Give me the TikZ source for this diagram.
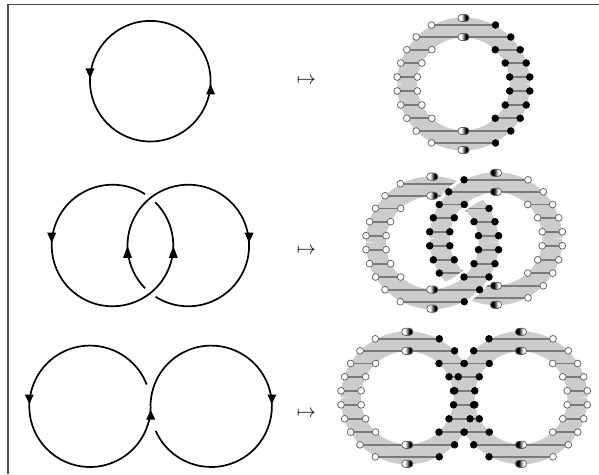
\documentclass[tikz,border=0pt]{standalone}
\usepackage{amsmath}
\pgfdeclarehorizontalshading{wbshade}{100bp}{color(0bp)=(white); color(40bp)=(white); color(60bp)=(black); color(100bp)=(black)}
\pgfdeclarehorizontalshading{bwshade}{100bp}{color(0bp)=(black); color(40bp)=(black); color(60bp)=(white); color(100bp)=(white)}
\tikzset{
  wire/.style={line width=1.7pt,black},
  tiphead/.style={fill=black},
  frameline/.style={line width=1.2pt,black!70},
  bandstroke/.style={line width=20pt,black!20},
  rowline/.style={line width=1.7pt,black!52},
  hollowdot/.style={draw=black!62,line width=.75pt,fill=white},
  soliddot/.style={draw=black,line width=.6pt,fill=black},
  halfdot/.style={draw=black!62,line width=.75pt,rounded corners=3.6pt},
  halo/.style={white}
}
% #1 cx, #2 cy, #3 +1 upper / -1 lower half, #4 left dot, #5 right dot, #6 shading
\newcommand{\ribhalf}[6]{%
  \begin{scope}[shift={(#1,#2)}]
    \draw[bandstroke] (#3*56.5,0) arc[start angle=#3*90-90,end angle=#3*90+90,radius=56.5];
    \foreach \d/\o/\i in {7/66.3/46.2,21/62.7/41.7,34.3/56.7/31.7}{
      \draw[rowline] (-\o,#3*\d) -- (-\i,#3*\d);
      \draw[rowline] (\i,#3*\d) -- (\o,#3*\d);
      \path[#4] (-\o,#3*\d) circle[radius=3.4];
      \path[#4] (-\i,#3*\d) circle[radius=3.4];
      \path[#5] (\i,#3*\d) circle[radius=3.4];
      \path[#5] (\o,#3*\d) circle[radius=3.4];
    }
    \foreach \d/\o in {47/47.3,59/32}{
      \draw[rowline] (-\o,#3*\d) -- (\o,#3*\d);
      \path[#4] (-\o,#3*\d) circle[radius=3.4];
      \path[#5] (\o,#3*\d) circle[radius=3.4];
    }
    \foreach \d in {47,66}{
      \path[halfdot,shading=#6] (-5.6,#3*\d-3.6) rectangle (5.6,#3*\d+3.6);
    }
  \end{scope}%
}
% white gap along a half of a ribbon: #1 cx, #2 cy, #3 start angle
\newcommand{\ribhalo}[3]{%
  \begin{scope}[shift={(#1,#2)}]
    \draw[halo,line width=3.2pt] (#3:68) arc[start angle=#3,delta angle=180,radius=68];
    \draw[halo,line width=5.5pt] (#3:43.75) arc[start angle=#3,delta angle=180,radius=43.75];
  \end{scope}%
}
\begin{document}
\begin{tikzpicture}[x=1pt,y=1pt]
\useasboundingbox (0,0) rectangle (599,474);
\draw[frameline] (8,0) -- (8,469.5) -- (599,469.5);

% left column, first row
\draw[wire] (150.3,392.8) ++(180:60.3) arc[start angle=180,delta angle=-360,radius=60.3];
\fill[tiphead] (90,395.7) -- (85.5,405.5) -- (94.5,405.5) -- cycle;
\fill[tiphead] (210.6,390) -- (206.1,379.5) -- (215.1,379.5) -- cycle;

% left column, second row
\draw[wire] (112.5,228.5) ++(57.6:60.8) arc[start angle=57.6,end angle=405.3,radius=60.8];
\draw[wire] (188.3,228.5) ++(237.5:60.8) arc[start angle=237.5,end angle=584.7,radius=60.8];
\fill[tiphead] (51.7,231.3) -- (47.2,241.3) -- (56.2,241.3) -- cycle;
\fill[tiphead] (249.1,231.3) -- (244.6,241.3) -- (253.6,241.3) -- cycle;
\fill[tiphead] (127.5,228) -- (123,216) -- (132,216) -- cycle;
\fill[tiphead] (173.3,228) -- (168.8,216) -- (177.8,216) -- cycle;

% left column, third row
\draw[wire] (90,67.7) ++(21:60.7) arc[start angle=21,end angle=360,radius=60.7];
\draw[wire] (211.2,67.7) ++(204:60.7) arc[start angle=204,end angle=540,radius=60.7];
\fill[tiphead] (29.3,70) -- (24.8,79.5) -- (33.8,79.5) -- cycle;
\fill[tiphead] (271.9,70) -- (267.4,79.5) -- (276.4,79.5) -- cycle;
\fill[tiphead] (150.7,64) -- (146.2,54.5) -- (155.2,54.5) -- cycle;

% maps-to signs
\node[scale=1.9,inner sep=0pt] (mapa) at (306.3,393.3) {$\mapsto$};
\node[scale=1.9,inner sep=0pt] (mapb) at (306.3,223.3) {$\mapsto$};
\node[scale=1.9,inner sep=0pt] (mapc) at (306.3,60) {$\mapsto$};

% right column, first row
\ribhalf{463.5}{390}{1}{hollowdot}{soliddot}{wbshade}
\ribhalf{463.5}{390}{-1}{hollowdot}{soliddot}{wbshade}

% right column, second row
\ribhalf{496}{235.2}{-1}{soliddot}{hollowdot}{bwshade}
\ribhalo{432.3}{231.3}{180}
\ribhalf{432.3}{231.3}{-1}{hollowdot}{soliddot}{wbshade}
\ribhalf{432.3}{231.3}{1}{hollowdot}{soliddot}{wbshade}
\ribhalo{496}{235.2}{0}
\ribhalf{496}{235.2}{1}{soliddot}{hollowdot}{bwshade}

% right column, third row
\ribhalf{521}{76.2}{-1}{soliddot}{hollowdot}{bwshade}
\ribhalf{407.3}{76.2}{-1}{hollowdot}{soliddot}{wbshade}
\ribhalf{407.3}{76.2}{1}{hollowdot}{soliddot}{wbshade}
\ribhalf{521}{76.2}{1}{soliddot}{hollowdot}{bwshade}
\end{tikzpicture}
\end{document}
